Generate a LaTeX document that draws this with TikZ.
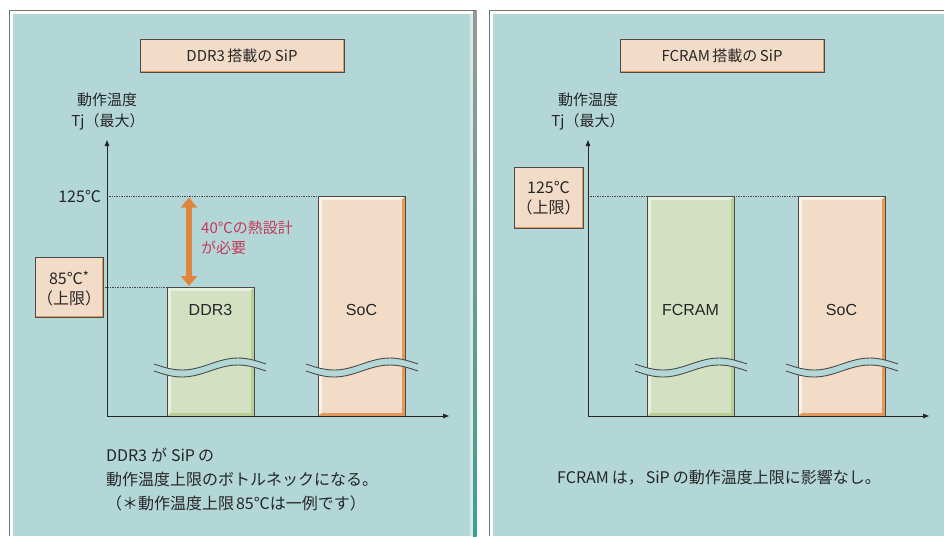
\documentclass[tikz,border=0pt]{standalone}
\usepackage{fontspec}
\setmainfont{Noto Sans CJK JP}
\newfontfamily\latf{Liberation Sans}
\usetikzlibrary{arrows.meta}
\definecolor{tealbg}{HTML}{B3D7D7}
\definecolor{tealdark}{HTML}{3F9F92}
\definecolor{peach}{HTML}{F2DCC8}
\definecolor{peachlt}{HTML}{FBF0E5}
\definecolor{orng}{HTML}{E39A5F}
\definecolor{grn}{HTML}{D4E0C2}
\definecolor{grnlt}{HTML}{E7EEDB}
\definecolor{grndk}{HTML}{B9CD95}
\definecolor{txtgray}{HTML}{262626}
\definecolor{lngray}{HTML}{4A4A4A}
\definecolor{arrorange}{HTML}{E0853D}
\definecolor{redtxt}{HTML}{C63A5C}
\newcommand\brkwave[1]{%
  \fill[tealbg] (#1,364) sin ++(28,6) cos ++(28,-6) sin ++(28,-6) cos ++(28,6)
     -- ++(0,7) sin ++(-28,-6) cos ++(-28,6) sin ++(-28,6) cos ++(-28,-6) -- cycle;
  \draw[wavel] (#1,364) sin ++(28,6) cos ++(28,-6) sin ++(28,-6) cos ++(28,6);
  \draw[wavel] (#1,371) sin ++(28,6) cos ++(28,-6) sin ++(28,-6) cos ++(28,6);}
\tikzset{
  txt/.style={font=\fontsize{15}{18}\selectfont, text=txtgray, inner sep=0pt, outer sep=0pt},
  bigtxt/.style={font=\fontsize{16}{24}\selectfont, text=txtgray, inner sep=0pt, outer sep=0pt},
  barlbl/.style={font=\latf\fontsize{16}{18}\selectfont, text=txtgray, inner sep=0pt},
  redlbl/.style={font=\fontsize{15}{20}\selectfont, text=redtxt, inner sep=0pt, align=left},
  bevel/.style n args={3}{draw=lngray, line width=0.8pt, inner sep=0pt, outer sep=0pt,
    anchor=north west, minimum width=87pt,
    path picture={
      \fill[#3] (path picture bounding box.south west) rectangle (path picture bounding box.north east);
      \fill[#2] (path picture bounding box.south west) -- (path picture bounding box.north west)
        -- (path picture bounding box.north east) -- ([shift={(-3.5pt,-4pt)}]path picture bounding box.north east)
        -- ([shift={(4pt,-4pt)}]path picture bounding box.north west)
        -- ([shift={(4pt,3.5pt)}]path picture bounding box.south west) -- cycle;
      \fill[#1] ([shift={(4pt,3.5pt)}]path picture bounding box.south west) rectangle ([shift={(-3.5pt,-4pt)}]path picture bounding box.north east);
    }},
  socbar/.style={bevel={peach}{peachlt}{orng}},
  grnbar/.style={bevel={grn}{grnlt}{grndk}},
  lblbox/.style={draw=lngray, fill=peach, line width=0.8pt, inner sep=0pt, outer sep=0pt, anchor=north west,
    path picture={\fill[orng] (path picture bounding box.south west) rectangle ([yshift=1.5pt]path picture bounding box.south east);
                  \fill[orng] (path picture bounding box.south east) rectangle ([xshift=-1.2pt]path picture bounding box.north east);}},
  wavel/.style={draw=lngray, line width=0.9pt},
  axisl/.style={draw=txtgray, line width=1pt, -{Triangle[length=6pt,width=4.5pt]}},
  dotl/.style={draw=lngray, line width=0.7pt, dash pattern=on 0.8pt off 0.9pt},
  bigarrow/.style={draw=arrorange, line width=6.5pt,
    {Triangle[length=10pt,width=16pt]}-{Triangle[length=10pt,width=16pt]}},
}
\begin{document}
\begin{tikzpicture}[x=1pt,y=-1pt]
\useasboundingbox (0,0) rectangle (944,536);
\fill[white] (0,0) rectangle (944,536);
% ---------- panels ----------
\fill[white] (9,10) rectangle (476,536);
\fill[tealbg] (13,14) rectangle (472,536);
\fill[white!45!tealbg] (470,14) rectangle (473,536);
\shade[top color=gray!80, bottom color=tealdark] (473,10) rectangle (476.5,536);
\draw[gray!90!black, line width=1.3pt] (9.5,536) -- (9.5,10.5) -- (476,10.5);
\fill[white] (489,10) rectangle (944,536);
\fill[tealbg] (493,14) rectangle (944,536);
\draw[gray!90!black, line width=1.3pt] (489.5,536) -- (489.5,10.5) -- (944,10.5);
% ---------- left panel ----------
\node[lblbox, minimum width=204pt, minimum height=33pt] (t1) at (140,39) {};
\node[txt] (t1txt) at (t1.center) {DDR3\,搭載の\,SiP};
\node[txt, anchor=center] (yl1a) at (107,100) {動作温度};
\node[txt, anchor=center] (yl1b) at (108,122) {Tj（最大）};
\coordinate (o1) at (107,416);
\coordinate (y1) at (107,140);
\coordinate (x1) at (449,416);
\node[txt, anchor=east, font=\fontsize{16}{18}\selectfont] (l125) at (101,196) {125℃};
\coordinate (d1a) at (107,196);
\coordinate (d1b) at (318,196);
\draw[dotl] (d1a) -- (d1b);
\node[lblbox, minimum width=68pt, minimum height=60pt] (b85) at (35,257) {};
\node[txt, font=\fontsize{16}{18}\selectfont] (b85a) at (69,278) {85℃\raisebox{3pt}{\fontsize{13}{13}\selectfont *}};
\node[txt, font=\fontsize{16}{18}\selectfont] (b85b) at (69,298) {（上限）};
\coordinate (d2a) at (103,287);
\coordinate (d2b) at (167,287);
\draw[dotl] (d2a) -- (d2b);
\node[grnbar, minimum height=129pt] (ddr3) at (167,287) {};
\node[socbar, minimum height=220pt] (soc1) at (318,196) {};
\node[barlbl] (ddr3l) at (210.5,310) {DDR3};
\node[barlbl] (soc1l) at (361.5,310) {SoC};
\brkwave{154}
\brkwave{306}
\draw[axisl] (o1) -- (y1);
\draw[axisl] (o1) -- (x1);
\coordinate (arT) at (189,197.5);
\coordinate (arB) at (189,286);
\draw[bigarrow] (arT) -- (arB);
\node[redlbl, anchor=north west] (red1) at (201,221) {40℃の熱設計\\が必要};
\node[bigtxt, anchor=west, align=left] (btm1) at (106,479.5)
  {DDR3\hspace{4pt}が\hspace{4pt}SiP\hspace{3pt}の\\動作温度上限のボトルネックになる。\\（＊動作温度上限\hspace{2pt}85℃は一例です）};
% ---------- right panel ----------
\node[lblbox, minimum width=204pt, minimum height=33pt] (t2) at (620,39) {};
\node[txt] (t2txt) at (t2.center) {FCRAM\,搭載の\,SiP};
\node[txt, anchor=center] (yl2a) at (588,100) {動作温度};
\node[txt, anchor=center] (yl2b) at (588,122) {Tj（最大）};
\coordinate (o2) at (588,416);
\coordinate (y2) at (588,140);
\coordinate (x2) at (929,416);
\node[lblbox, minimum width=69pt, minimum height=61pt] (b125) at (514,167) {};
\node[txt, font=\fontsize{16}{18}\selectfont] (b125a) at (548.5,187) {125℃};
\node[txt, font=\fontsize{16}{18}\selectfont] (b125b) at (548.5,207) {（上限）};
\coordinate (d3a) at (588,196);
\coordinate (d3b) at (798,196);
\draw[dotl] (d3a) -- (d3b);
\node[grnbar, minimum height=220pt] (fcram) at (647,196) {};
\node[socbar, minimum height=220pt] (soc2) at (798,196) {};
\node[barlbl] (fcraml) at (690.5,310) {FCRAM};
\node[barlbl] (soc2l) at (841.5,310) {SoC};
\brkwave{635}
\brkwave{786}
\draw[axisl] (o2) -- (y2);
\draw[axisl] (o2) -- (x2);
\node[bigtxt] (btm2) at (719,478) {FCRAM\hspace{3pt}は，\hspace{2pt}SiP\hspace{3pt}の動作温度上限に影響なし。};
\end{tikzpicture}
\end{document}
